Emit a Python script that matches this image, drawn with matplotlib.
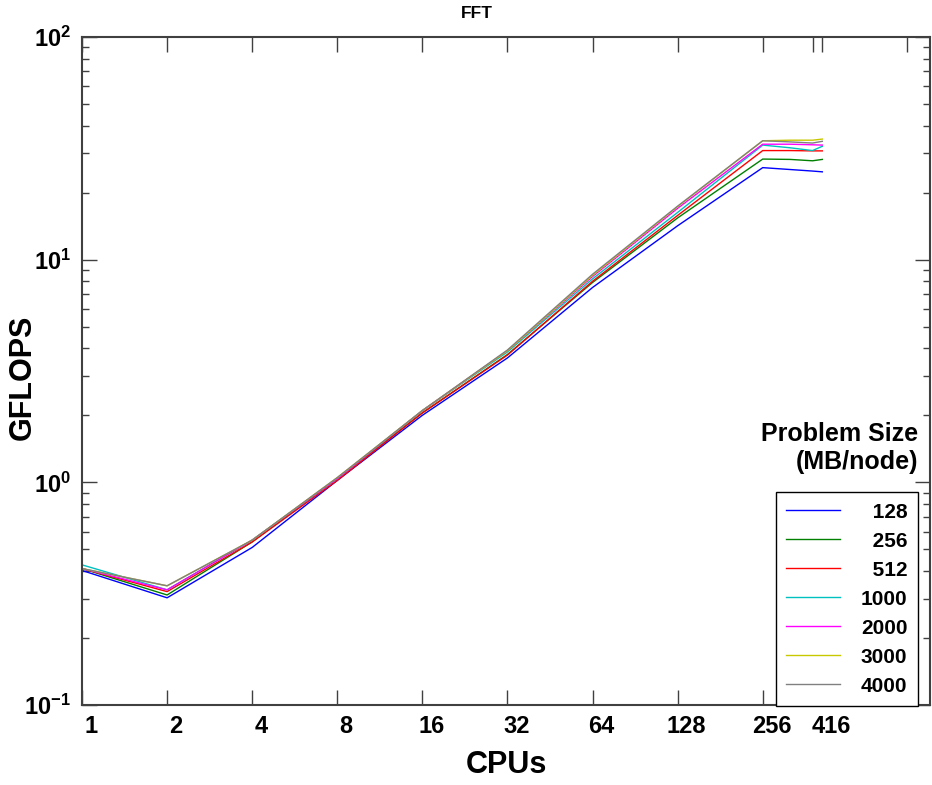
import matplotlib
matplotlib.use("Agg")
import matplotlib.pyplot as plt
from matplotlib.ticker import FixedLocator, LogLocator, NullFormatter
from matplotlib.transforms import ScaledTranslation

plt.rcParams['font.family'] = ['Liberation Sans', 'DejaVu Sans']
plt.rcParams['font.weight'] = 'bold'
plt.rcParams['mathtext.fontset'] = 'custom'
plt.rcParams['mathtext.rm'] = 'Liberation Sans:bold'
plt.rcParams['mathtext.it'] = 'Liberation Sans:bold'
plt.rcParams['mathtext.bf'] = 'Liberation Sans:bold'

# donnees
cpus = [1, 2, 4, 8, 16, 32, 64, 128, 256, 320, 384, 416]
tailles = ['128', '256', '512', '1000', '2000', '3000', '4000']
couleurs = ['#0000ff', '#008000', '#ff0000', '#00c0c0', '#ff00ff', '#c8c800', '#808080']

gf_128 = [0.402, 0.303, 0.51, 1.02, 2.0, 3.62, 7.5, 14.2, 25.9, 25.4, 25.0, 24.8]
gf_256 = [0.41, 0.312, 0.54, 1.04, 2.05, 3.75, 7.9, 15.4, 28.3, 28.2, 27.8, 28.2]
gf_512 = [0.41, 0.323, 0.54, 1.02, 2.05, 3.73, 8.0, 15.8, 30.9, 30.9, 30.8, 30.8]
gf_1000 = [0.426, 0.329, 0.55, 1.04, 2.1, 3.85, 8.2, 16.3, 32.7, 31.8, 30.9, 32.3]
gf_2000 = [0.41, 0.329, 0.55, 1.04, 2.1, 3.9, 8.4, 17.0, 33.0, 33.0, 32.8, 32.7]
gf_3000 = [0.41, 0.343, 0.55, 1.05, 2.1, 3.9, 8.5, 17.3, 34.2, 34.4, 34.4, 34.8]
gf_4000 = [0.41, 0.343, 0.55, 1.05, 2.1, 3.93, 8.6, 17.4, 34.2, 33.8, 33.4, 34.0]
series = [gf_128, gf_256, gf_512, gf_1000, gf_2000, gf_3000, gf_4000]

ticks_x = [1, 2, 4, 8, 16, 32, 64, 128, 256, 384, 416, 832]
labels_x = ['1', '2', '4', '8', '16', '32', '64', '128', '256', '', '416', '']

fig = plt.figure(figsize=(9.32, 7.85), dpi=100)
ax = fig.add_axes([82 / 932, 1 - 705 / 785, 848 / 932, 668 / 785])

# les etiquettes de legende sont alignees a droite avec des espaces de chiffre
largeur = max(len(t) for t in tailles)
for valeurs, nom, coul in zip(series, tailles, couleurs):
    ax.plot(cpus, valeurs, color=coul, lw=1.0, label=nom.rjust(largeur, '\u2007'))

ax.set_xscale('log', base=2)
ax.set_yscale('log')
ax.set_xlim(1, 1000)
ax.set_ylim(0.1, 100)

ax.xaxis.set_major_locator(FixedLocator(ticks_x))
ax.set_xticklabels(labels_x)
ax.xaxis.set_minor_locator(FixedLocator([]))
ax.yaxis.set_major_locator(FixedLocator([0.1, 1, 10, 100]))
ax.set_yticklabels([r'$10^{-1}$', r'$10^{0}$', r'$10^{1}$', r'$10^{2}$'])
ax.yaxis.set_minor_locator(LogLocator(base=10, subs=range(2, 10)))
ax.yaxis.set_minor_formatter(NullFormatter())

ax.tick_params(which='both', direction='in', top=True, right=True, color='#404040')
ax.tick_params(which='major', length=11, width=1)
ax.tick_params(which='minor', length=5, width=1)
ax.tick_params(axis='x', labelsize=17, pad=7)
ax.tick_params(axis='y', labelsize=17, pad=8)
for lab in ax.get_xticklabels():
    lab.set_transform(lab.get_transform() + ScaledTranslation(0.09, 0, fig.dpi_scale_trans))
for s in ax.spines.values():
    s.set_linewidth(1.5)
    s.set_color('#404040')

ax.set_xlabel('CPUs', fontsize=22, fontweight='bold', labelpad=9)
ax.set_ylabel('GFLOPS', fontsize=22, fontweight='bold')
ax.yaxis.set_label_coords(-0.052, 0.49)
fig.text(477 / 932, 1 - 13 / 785, 'FFT', fontsize=12.5, fontweight='bold', ha='center', va='center')

leg = ax.legend(loc='lower right', bbox_to_anchor=(918 / 932, 1 - 706 / 785),
                bbox_transform=fig.transFigure, borderaxespad=0, fontsize=15,
                handlelength=2.6, handletextpad=1.0, labelspacing=0.48,
                borderpad=0.5, fancybox=False, edgecolor='black', framealpha=1)
leg.get_frame().set_linewidth(1.0)

fig.text(918 / 932, 1 - 448 / 785, 'Problem Size\n(MB/node)', fontsize=18,
         fontweight='bold', ha='right', va='center', linespacing=1.25)

plt.savefig('out.png', dpi=100)
